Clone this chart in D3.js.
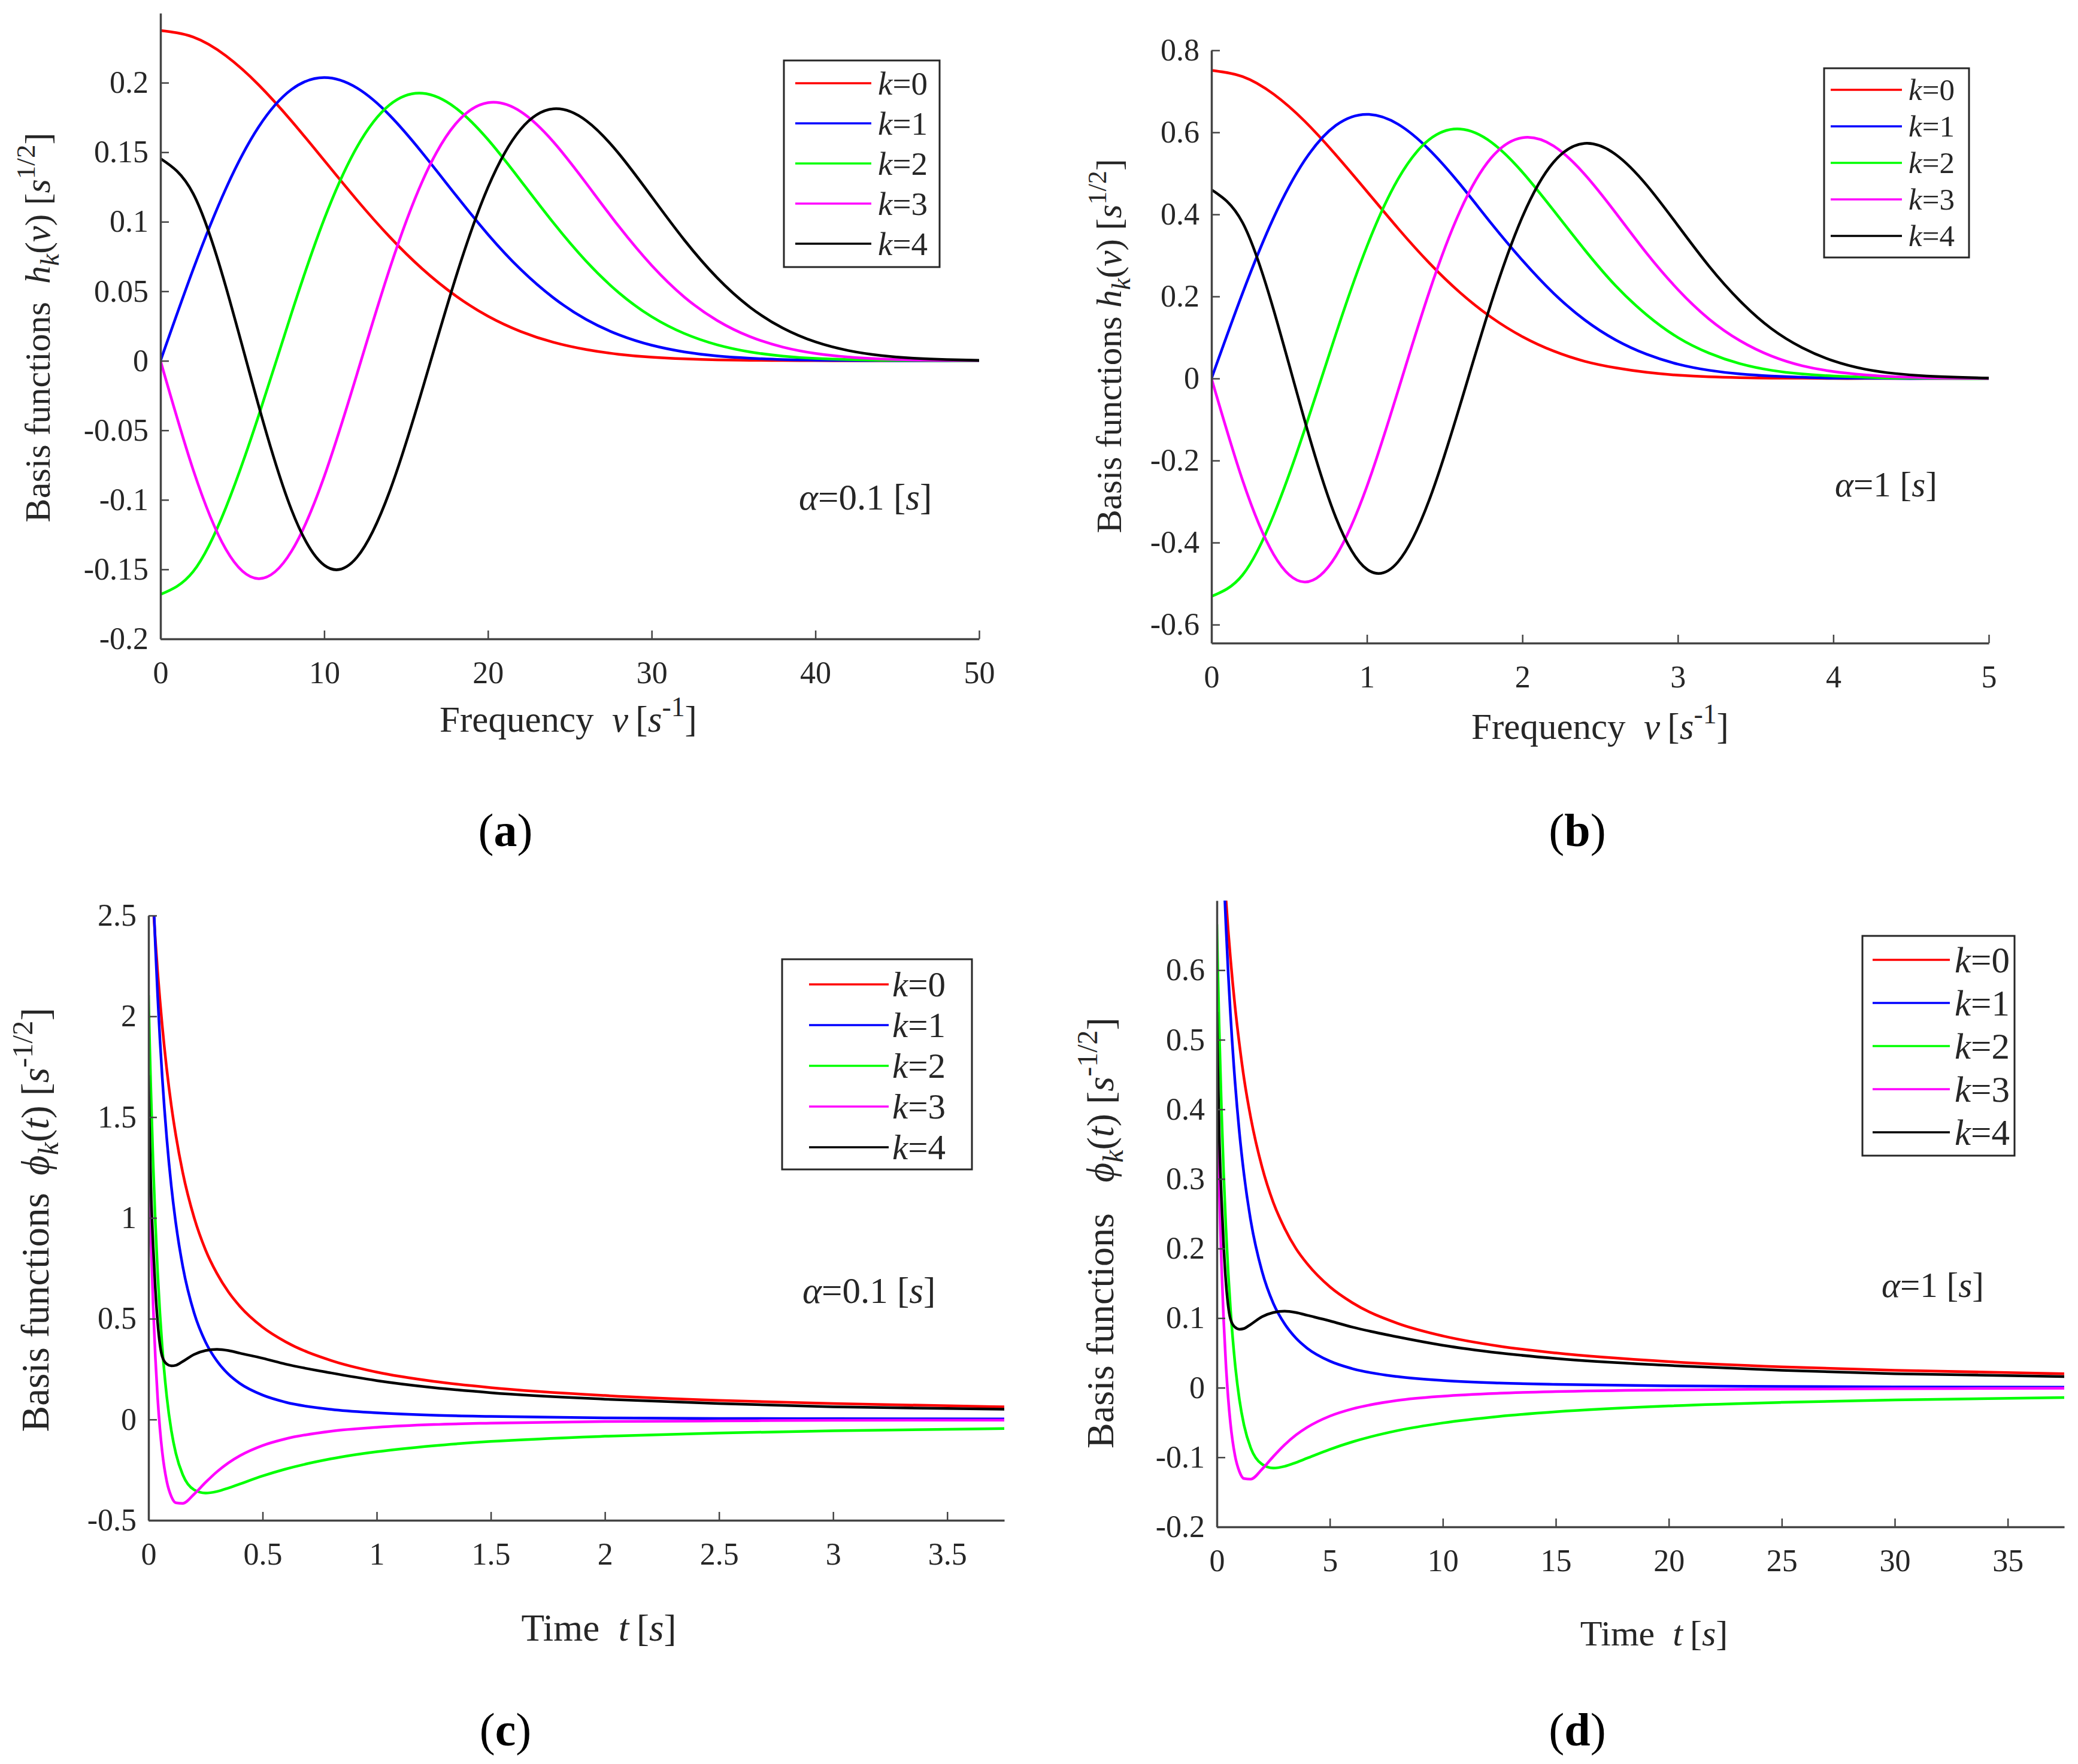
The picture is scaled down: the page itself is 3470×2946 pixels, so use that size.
<!DOCTYPE html>
<html>
<head>
<meta charset="utf-8">
<script src="https://cdn.jsdelivr.net/npm/d3@7"></script>
<style>
  body { margin: 0; background: #fff; }
</style>
</head>
<body>
<div id="chart"></div>
<script>
const width = 3470;
const height = 2946;
const FONT = "'Liberation Serif', 'Times New Roman', serif";

// frequency grids (panels a, b)
const freqA = [0, 2, 4, 6, 8, 10, 12, 14, 16, 18, 20, 22, 24, 26, 28, 30, 32, 34, 36, 38, 40, 42, 44, 46, 48, 50];
const freqB = [0, 0.2, 0.4, 0.6, 0.8, 1.0, 1.2, 1.4, 1.6, 1.8, 2.0, 2.2, 2.4, 2.6, 2.8, 3.0, 3.2, 3.4, 3.6, 3.8, 4.0, 4.2, 4.4, 4.6, 4.8, 5.0];

// time grids (panels c, d)
const timeC = [0, 0.005, 0.01, 0.02, 0.03, 0.04, 0.05, 0.06, 0.08, 0.1, 0.12, 0.15, 0.2, 0.25, 0.3, 0.35, 0.4, 0.5, 0.6, 0.8, 1.0, 1.25, 1.5, 2, 2.5, 3, 3.75];
const timeD = [0, 0.05, 0.1, 0.2, 0.3, 0.4, 0.5, 0.6, 0.8, 1.0, 1.2, 1.5, 2, 2.5, 3, 3.5, 4, 5, 6, 8, 10, 12.5, 15, 20, 25, 30, 37.5];

// panel (a), alpha = 0.1 s
const aK0 = [0.2375, 0.2328, 0.2193, 0.1984, 0.1725, 0.1441, 0.1156, 0.0891, 0.0660, 0.0470, 0.0321, 0.0211, 0.0133, 0.0081, 0.0047, 0.0026, 0.0014, 0.0007, 0.0004, 0.0002, 0.0001, 0, 0, 0, 0, 0];
const aK1 = [0, 0.0659, 0.1240, 0.1683, 0.1951, 0.2037, 0.1962, 0.1765, 0.1494, 0.1197, 0.0909, 0.0657, 0.0453, 0.0297, 0.0187, 0.0112, 0.0064, 0.0035, 0.0019, 0.0009, 0.0005, 0.0002, 0.0001, 0, 0, 0];
const aK2 = [-0.1680, -0.1515, -0.1054, -0.0393, 0.0341, 0.1019, 0.1537, 0.1841, 0.1924, 0.1821, 0.1591, 0.1296, 0.0992, 0.0716, 0.0489, 0.0317, 0.0196, 0.0115, 0.0064, 0.0034, 0.0017, 0.0009, 0.0004, 0.0002, 0.0001, 0];
const aK3 = [0, -0.0785, -0.1357, -0.1567, -0.1370, -0.0832, -0.0096, 0.0663, 0.1293, 0.1700, 0.1856, 0.1792, 0.1574, 0.1277, 0.0966, 0.0686, 0.0458, 0.0290, 0.0174, 0.0099, 0.0053, 0.0027, 0.0013, 0.0006, 0.0003, 0.0001];
const aK4 = [0.1454, 0.1201, 0.0529, -0.0325, -0.1071, -0.1470, -0.1413, -0.0938, -0.0203, 0.0586, 0.1247, 0.1665, 0.1812, 0.1727, 0.1489, 0.1180, 0.0868, 0.0597, 0.0386, 0.0236, 0.0136, 0.0074, 0.0038, 0.0019, 0.0009, 0.0004];

// panel (b), alpha = 1 s
const bK0 = [0.751, 0.736, 0.693, 0.627, 0.545, 0.456, 0.366, 0.282, 0.209, 0.149, 0.102, 0.067, 0.042, 0.026, 0.015, 0.008, 0.004, 0.002, 0.001, 0.001, 0, 0, 0, 0, 0, 0];
const bK1 = [0, 0.208, 0.392, 0.532, 0.617, 0.644, 0.620, 0.558, 0.473, 0.378, 0.288, 0.208, 0.143, 0.094, 0.059, 0.035, 0.020, 0.011, 0.006, 0.003, 0.001, 0.001, 0, 0, 0, 0];
const bK2 = [-0.531, -0.479, -0.333, -0.124, 0.108, 0.322, 0.486, 0.582, 0.608, 0.576, 0.503, 0.410, 0.314, 0.226, 0.155, 0.100, 0.062, 0.036, 0.020, 0.011, 0.006, 0.003, 0.001, 0.001, 0, 0];
const bK3 = [0, -0.248, -0.429, -0.496, -0.433, -0.263, -0.030, 0.210, 0.409, 0.538, 0.587, 0.567, 0.498, 0.404, 0.305, 0.217, 0.145, 0.092, 0.055, 0.031, 0.017, 0.009, 0.004, 0.002, 0.001, 0];
const bK4 = [0.460, 0.380, 0.167, -0.103, -0.339, -0.465, -0.447, -0.297, -0.064, 0.185, 0.394, 0.527, 0.573, 0.546, 0.471, 0.373, 0.274, 0.189, 0.122, 0.075, 0.043, 0.023, 0.012, 0.006, 0.003, 0.001];

// panel (c), alpha = 0.1 s
const cK0 = [2.977, 2.862, 2.754, 2.556, 2.380, 2.222, 2.082, 1.955, 1.737, 1.557, 1.408, 1.225, 1.001, 0.841, 0.724, 0.633, 0.562, 0.458, 0.386, 0.293, 0.235, 0.189, 0.158, 0.119, 0.095, 0.079, 0.063];
const cK1 = [3.359, 3.157, 2.970, 2.636, 2.350, 2.102, 1.887, 1.700, 1.394, 1.157, 0.971, 0.760, 0.528, 0.384, 0.290, 0.225, 0.179, 0.121, 0.086, 0.050, 0.033, 0.021, 0.015, 0.008, 0.005, 0.004, 0.003];
const cK2 = [2.105, 1.866, 1.650, 1.280, 0.978, 0.731, 0.528, 0.362, 0.113, -0.055, -0.169, -0.274, -0.349, -0.365, -0.357, -0.340, -0.320, -0.280, -0.246, -0.195, -0.160, -0.130, -0.109, -0.083, -0.067, -0.056, -0.045];
const cK3 = [1.371, 1.130, 0.919, 0.572, 0.308, 0.106, -0.046, -0.160, -0.307, -0.382, -0.413, -0.416, -0.370, -0.312, -0.259, -0.215, -0.180, -0.129, -0.096, -0.058, -0.039, -0.025, -0.018, -0.010, -0.007, -0.004, -0.003];
const cK4 = [1.708, 1.423, 1.170, 0.870, 0.648, 0.481, 0.373, 0.313, 0.275, 0.266, 0.269, 0.288, 0.323, 0.342, 0.348, 0.342, 0.329, 0.304, 0.275, 0.231, 0.193, 0.158, 0.133, 0.101, 0.079, 0.063, 0.051];

// panel (d), alpha = 1 s
const dK0 = [0.941, 0.905, 0.871, 0.808, 0.753, 0.703, 0.658, 0.618, 0.549, 0.493, 0.445, 0.388, 0.317, 0.266, 0.229, 0.200, 0.178, 0.145, 0.122, 0.0925, 0.0744, 0.0597, 0.0499, 0.0375, 0.0300, 0.0250, 0.0200];
const dK1 = [1.062, 0.998, 0.939, 0.834, 0.743, 0.665, 0.597, 0.538, 0.441, 0.366, 0.307, 0.240, 0.167, 0.121, 0.0916, 0.0712, 0.0567, 0.0382, 0.0273, 0.0159, 0.0103, 0.0067, 0.0047, 0.0026, 0.0017, 0.0012, 0.0008];
const dK2 = [0.666, 0.590, 0.522, 0.405, 0.309, 0.231, 0.167, 0.115, 0.036, -0.0175, -0.0535, -0.0866, -0.110, -0.1155, -0.113, -0.1076, -0.1012, -0.0886, -0.0778, -0.0616, -0.0506, -0.0412, -0.0346, -0.0262, -0.0211, -0.0176, -0.0141];
const dK3 = [0.434, 0.357, 0.291, 0.181, 0.0973, 0.0336, -0.0146, -0.0507, -0.0971, -0.1207, -0.1306, -0.1314, -0.1171, -0.0988, -0.0820, -0.0680, -0.0569, -0.0408, -0.0304, -0.0183, -0.0122, -0.0080, -0.0056, -0.0032, -0.0021, -0.0014, -0.0009];
const dK4 = [0.540, 0.450, 0.370, 0.275, 0.205, 0.152, 0.118, 0.099, 0.087, 0.084, 0.085, 0.091, 0.102, 0.108, 0.110, 0.108, 0.104, 0.096, 0.087, 0.073, 0.061, 0.050, 0.042, 0.032, 0.025, 0.020, 0.016];

// legend entries and tick labels
const kValues = ["0", "1", "2", "3", "4"];
const aXTicks = [0, 10, 20, 30, 40, 50];
const aXTickLabels = ["0", "10", "20", "30", "40", "50"];
const aYTicks = [-0.2, -0.15, -0.1, -0.05, 0, 0.05, 0.1, 0.15, 0.2];
const aYTickLabels = ["-0.2", "-0.15", "-0.1", "-0.05", "0", "0.05", "0.1", "0.15", "0.2"];
const bXTicks = [0, 1, 2, 3, 4, 5];
const bXTickLabels = ["0", "1", "2", "3", "4", "5"];
const bYTicks = [-0.6, -0.4, -0.2, 0, 0.2, 0.4, 0.6, 0.8];
const bYTickLabels = ["-0.6", "-0.4", "-0.2", "0", "0.2", "0.4", "0.6", "0.8"];
const cXTicks = [0, 0.5, 1, 1.5, 2, 2.5, 3, 3.5];
const cXTickLabels = ["0", "0.5", "1", "1.5", "2", "2.5", "3", "3.5"];
const cYTicks = [-0.5, 0, 0.5, 1, 1.5, 2, 2.5];
const cYTickLabels = ["-0.5", "0", "0.5", "1", "1.5", "2", "2.5"];
const dXTicks = [0, 5, 10, 15, 20, 25, 30, 35];
const dXTickLabels = ["0", "5", "10", "15", "20", "25", "30", "35"];
const dYTicks = [-0.2, -0.1, 0, 0.1, 0.2, 0.3, 0.4, 0.5, 0.6];
const dYTickLabels = ["-0.2", "-0.1", "0", "0.1", "0.2", "0.3", "0.4", "0.5", "0.6"];

const colors = ["#ff0000", "#0000ff", "#00ff00", "#ff00ff", "#000000"];

const svg = d3.select("#chart")
    .append("svg")
    .attr("width", width)
    .attr("height", height)
    .attr("font-family", FONT);

svg.append("rect").attr("width", width).attr("height", height).attr("fill", "#fff");

// text with italic / bold / sub / superscript pieces
function richText(parent, x, y, size, parts, anchor, rotate) {
    const t = parent.append("text")
        .attr("x", x)
        .attr("y", y)
        .attr("font-size", size)
        .attr("font-family", FONT)
        .attr("fill", "#262626")
        .attr("text-anchor", anchor);
    if (rotate) t.attr("transform", `rotate(-90 ${x} ${y})`);
    let shift = 0;
    parts.forEach(p => {
        const target = p.sup ? -0.42 : p.sub ? 0.25 : 0;
        const ts = t.append("tspan").text(p.t).attr("dy", (target - shift) * size);
        if (p.dx) ts.attr("dx", p.dx * size);
        if (p.i) ts.attr("font-style", "italic");
        if (p.b) ts.attr("font-weight", "bold");
        if (p.sup || p.sub) ts.attr("font-size", size * 0.75);
        shift = target;
    });
    return t;
}

const freqLabel = [{t: "Frequency"}, {t: "v", i: true, dx: 0.5}, {t: "[", dx: 0.2}, {t: "s", i: true}, {t: "-1", sup: true}, {t: "]"}];
const timeLabel = [{t: "Time"}, {t: "t", i: true, dx: 0.5}, {t: "[", dx: 0.2}, {t: "s", i: true}, {t: "]"}];
const hLabel = gap => [{t: "Basis functions"}, {t: "h", i: true, dx: gap}, {t: "k", i: true, sub: true}, {t: "("}, {t: "v", i: true}, {t: ")"},
    {t: "[", dx: 0.25}, {t: "s", i: true}, {t: "1/2", sup: true}, {t: "]"}];
const phiLabel = gap => [{t: "Basis functions"}, {t: "\u03D5", i: true, dx: gap}, {t: "k", i: true, sub: true}, {t: "("}, {t: "t", i: true}, {t: ")"},
    {t: "[", dx: 0.25}, {t: "s", i: true}, {t: "-1/2", sup: true}, {t: "]"}];

const panels = [
    {
        id: "a", xs: freqA, series: [aK0, aK1, aK2, aK3, aK4], curve: d3.curveNatural,
        xDomain: [0, 50], yDomain: [-0.2, 0.25],
        left: 268, right: 1635, top: 22, bottom: 1067,
        xTicks: aXTicks, xTickLabels: aXTickLabels, yTicks: aYTicks, yTickLabels: aYTickLabels,
        yLabel: hLabel(0.5), yLabelX: 83, yLabelY: 547, yLabelSize: 60,
        xLabel: freqLabel, xLabelX: 949, xLabelY: 1222, xLabelSize: 61,
        legend: {x: 1309, y: 101, w: 260, h: 345, row0: 139, step: 67, l0: 1328, l1: 1455, tx: 1466, size: 55},
        note: [{t: "\u03B1", i: true}, {t: "=0.1"}, {t: "[", dx: 0.25}, {t: "s", i: true}, {t: "]"}],
        noteX: 1334, noteY: 851, noteSize: 61,
        tag: "a", tagX: 844, tagY: 1413
    },
    {
        id: "b", xs: freqB, series: [bK0, bK1, bK2, bK3, bK4], curve: d3.curveNatural,
        xDomain: [0, 5], yDomain: [-0.645, 0.8],
        left: 2023, right: 3321, top: 84, bottom: 1074,
        xTicks: bXTicks, xTickLabels: bXTickLabels, yTicks: bYTicks, yTickLabels: bYTickLabels,
        yLabel: hLabel(0.25), yLabelX: 1872, yLabelY: 578, yLabelSize: 59,
        xLabel: freqLabel, xLabelX: 2672, xLabelY: 1234, xLabelSize: 61,
        legend: {x: 3046, y: 114, w: 242, h: 316, row0: 150, step: 61, l0: 3057, l1: 3176, tx: 3187, size: 51},
        note: [{t: "\u03B1", i: true}, {t: "=1"}, {t: "[", dx: 0.25}, {t: "s", i: true}, {t: "]"}],
        noteX: 3064, noteY: 829, noteSize: 59,
        tag: "b", tagX: 2634, tagY: 1413
    },
    {
        id: "c", xs: timeC, series: [cK0, cK1, cK2, cK3, cK4], curve: d3.curveMonotoneX,
        xDomain: [0, 3.75], yDomain: [-0.5, 2.5],
        left: 248, right: 1677, top: 1529, bottom: 2539,
        xTicks: cXTicks, xTickLabels: cXTickLabels, yTicks: cYTicks, yTickLabels: cYTickLabels,
        yLabel: phiLabel(0.45), yLabelX: 81, yLabelY: 2037, yLabelSize: 65,
        xLabel: timeLabel, xLabelX: 1000, xLabelY: 2740, xLabelSize: 63,
        legend: {x: 1306, y: 1602, w: 317, h: 351, row0: 1644, step: 68, l0: 1351, l1: 1484, tx: 1490, size: 59},
        note: [{t: "\u03B1", i: true}, {t: "=0.1"}, {t: "[", dx: 0.25}, {t: "s", i: true}, {t: "]"}],
        noteX: 1340, noteY: 2176, noteSize: 61,
        tag: "c", tagX: 844, tagY: 2915
    },
    {
        id: "d", xs: timeD, series: [dK0, dK1, dK2, dK3, dK4], curve: d3.curveMonotoneX,
        xDomain: [0, 37.5], yDomain: [-0.2, 0.7],
        left: 2032, right: 3447, top: 1504, bottom: 2550,
        xTicks: dXTicks, xTickLabels: dXTickLabels, yTicks: dYTicks, yTickLabels: dYTickLabels,
        yLabel: phiLabel(0.8), yLabelX: 1859, yLabelY: 2059, yLabelSize: 64,
        xLabel: timeLabel, xLabelX: 2762, xLabelY: 2748, xLabelSize: 60,
        legend: {x: 3110, y: 1563, w: 254, h: 367, row0: 1603, step: 72, l0: 3127, l1: 3256, tx: 3264, size: 61},
        note: [{t: "\u03B1", i: true}, {t: "=1"}, {t: "[", dx: 0.25}, {t: "s", i: true}, {t: "]"}],
        noteX: 3142, noteY: 2166, noteSize: 59,
        tag: "d", tagX: 2634, tagY: 2915
    }
];

panels.forEach(drawPanel);

function drawPanel(p) {
    const g = svg.append("g");
    const x = d3.scaleLinear().domain(p.xDomain).range([p.left, p.right]);
    const y = d3.scaleLinear().domain(p.yDomain).range([p.bottom, p.top]);

    svg.append("clipPath").attr("id", "clip-" + p.id)
        .append("rect")
        .attr("x", p.left).attr("y", p.top)
        .attr("width", p.right - p.left).attr("height", p.bottom - p.top);

    const line = d3.line()
        .x((d, i) => x(p.xs[i]))
        .y(d => y(d))
        .curve(p.curve);

    g.append("g")
        .attr("clip-path", `url(#clip-${p.id})`)
        .selectAll("path")
        .data(p.series)
        .join("path")
        .attr("d", line)
        .attr("fill", "none")
        .attr("stroke", (d, i) => colors[i])
        .attr("stroke-width", 4.5)
        .attr("stroke-linejoin", "round");

    // axes, ticks pointing inward like MATLAB
    const xAxis = d3.axisBottom(x)
        .tickValues(p.xTicks)
        .tickFormat((d, i) => p.xTickLabels[i])
        .tickSizeInner(-14)
        .tickSizeOuter(0)
        .tickPadding(37);
    const yAxis = d3.axisLeft(y)
        .tickValues(p.yTicks)
        .tickFormat((d, i) => p.yTickLabels[i])
        .tickSizeInner(-14)
        .tickSizeOuter(0)
        .tickPadding(20);

    [g.append("g").attr("transform", `translate(0,${p.bottom})`).call(xAxis),
     g.append("g").attr("transform", `translate(${p.left},0)`).call(yAxis)]
        .forEach(ax => {
            ax.attr("font-size", 52).attr("font-family", FONT).attr("color", "#262626");
            ax.selectAll(".tick text").attr("font-family", FONT);
            ax.select(".domain").attr("stroke", "#444").attr("stroke-width", 3.5);
            ax.selectAll(".tick line").attr("stroke", "#444").attr("stroke-width", 2.5);
        });

    richText(g, p.yLabelX, p.yLabelY, p.yLabelSize, p.yLabel, "middle", true);
    richText(g, p.xLabelX, p.xLabelY, p.xLabelSize, p.xLabel, "middle", false);

    // legend
    const L = p.legend;
    g.append("rect")
        .attr("x", L.x).attr("y", L.y)
        .attr("width", L.w).attr("height", L.h)
        .attr("fill", "#fff")
        .attr("stroke", "#262626")
        .attr("stroke-width", 3);
    kValues.forEach((k, i) => {
        const ry = L.row0 + i * L.step;
        g.append("line")
            .attr("x1", L.l0).attr("x2", L.l1)
            .attr("y1", ry).attr("y2", ry)
            .attr("stroke", colors[i])
            .attr("stroke-width", 3.5);
        richText(g, L.tx, ry + 0.34 * L.size, L.size, [{t: "k", i: true}, {t: "=" + k}], "start", false);
    });

    richText(g, p.noteX, p.noteY, p.noteSize, p.note, "start", false);

    richText(g, p.tagX, p.tagY, 78, [{t: "("}, {t: p.tag, b: true}, {t: ")"}], "middle", false)
        .attr("fill", "#000");
}
</script>
</body>
</html>
